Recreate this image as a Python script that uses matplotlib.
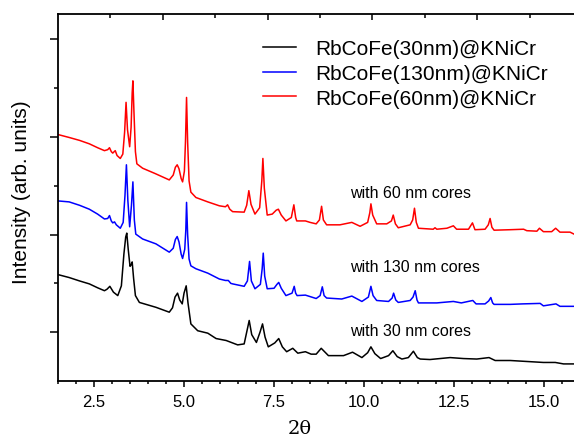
import matplotlib
matplotlib.use("Agg")
import matplotlib.pyplot as plt

plt.rcParams['font.family'] = ['Liberation Sans', 'DejaVu Sans']

# ---- data (2-theta, intensity in arb. units) ----
x_60nm = [1.50, 1.81, 2.10, 2.37, 2.60, 2.79, 2.88, 2.93, 2.98, 3.02, 3.09, 3.14, 3.23, 3.30, 3.35, 3.39,
          3.43, 3.49, 3.53, 3.56, 3.58, 3.61, 3.65, 3.69, 3.85, 4.20, 4.59, 4.70, 4.76, 4.81, 4.86, 4.92,
          4.96, 5.01, 5.04, 5.07, 5.10, 5.14, 5.19, 5.33, 5.66, 5.98, 6.15, 6.21, 6.27, 6.35, 6.67, 6.74,
          6.80, 6.86, 6.97, 7.10, 7.16, 7.19, 7.23, 7.31, 7.45, 7.56, 7.62, 7.70, 7.83, 7.98, 8.05, 8.10,
          8.13, 8.37, 8.50, 8.67, 8.76, 8.82, 8.87, 8.96, 9.33, 9.66, 9.89, 10.10, 10.16, 10.19, 10.24,
          10.35, 10.63, 10.76, 10.81, 10.87, 10.95, 11.28, 11.35, 11.40, 11.45, 11.51, 11.92, 11.97, 12.02,
          12.30, 12.48, 12.57, 12.90, 13.01, 13.08, 13.36, 13.45, 13.50, 13.55, 13.61, 14.06, 14.43, 14.52,
          14.80, 14.87, 14.98, 15.21, 15.32, 15.44, 15.72, 15.83]
y_60nm = [5.05, 4.99, 4.93, 4.86, 4.78, 4.72, 4.74, 4.78, 4.70, 4.67, 4.72, 4.62, 4.56, 4.65, 5.10, 5.71,
          5.15, 4.80, 5.20, 5.90, 6.15, 5.50, 4.70, 4.45, 4.36, 4.25, 4.12, 4.22, 4.38, 4.43, 4.35, 4.15,
          4.08, 4.30, 4.90, 5.81, 4.90, 4.10, 3.87, 3.76, 3.67, 3.59, 3.57, 3.61, 3.52, 3.47, 3.46, 3.60,
          3.90, 3.62, 3.42, 3.55, 4.10, 4.56, 3.95, 3.40, 3.42, 3.50, 3.52, 3.40, 3.28, 3.35, 3.61, 3.35,
          3.28, 3.28, 3.25, 3.22, 3.30, 3.58, 3.30, 3.20, 3.20, 3.25, 3.17, 3.25, 3.45, 3.63, 3.40,
          3.22, 3.22, 3.28, 3.40, 3.22, 3.14, 3.20, 3.30, 3.54, 3.25, 3.13, 3.11, 3.14, 3.11,
          3.13, 3.18, 3.11, 3.11, 3.24, 3.10, 3.11, 3.20, 3.33, 3.15, 3.09, 3.10, 3.11, 3.08,
          3.07, 3.13, 3.06, 3.06, 3.13, 3.05, 3.05, 3.01]

x_130nm = [1.50, 1.81, 2.10, 2.37, 2.60, 2.79, 2.88, 2.93, 2.98, 3.02, 3.07, 3.12, 3.23, 3.31, 3.36, 3.40,
           3.44, 3.49, 3.54, 3.58, 3.62, 3.66, 3.85, 4.22, 4.59, 4.70, 4.76, 4.81, 4.86, 4.92, 4.96, 5.02,
           5.05, 5.07, 5.10, 5.14, 5.19, 5.33, 5.66, 5.98, 6.15, 6.23, 6.30, 6.35, 6.67, 6.76, 6.82, 6.87,
           6.97, 7.12, 7.17, 7.20, 7.24, 7.31, 7.50, 7.58, 7.63, 7.70, 7.83, 8.00, 8.06, 8.10, 8.14, 8.37,
           8.50, 8.67, 8.78, 8.84, 8.89, 8.96, 9.38, 9.66, 9.94, 10.12, 10.19, 10.25, 10.35, 10.68, 10.78,
           10.82, 10.88, 10.95, 11.28, 11.36, 11.42, 11.47, 11.51, 12.02, 12.48, 12.70, 13.02, 13.11, 13.36,
           13.46, 13.52, 13.57, 13.61, 14.06, 14.40, 14.89, 14.98, 15.33, 15.44, 15.83]
y_130nm = [3.69, 3.67, 3.60, 3.52, 3.42, 3.32, 3.33, 3.39, 3.28, 3.24, 3.26, 3.20, 3.13, 3.25, 3.80, 4.43,
           3.70, 3.16, 3.60, 4.08, 3.30, 3.01, 2.91, 2.81, 2.64, 2.72, 2.90, 2.96, 2.85, 2.60, 2.51, 2.70,
           3.10, 3.66, 3.00, 2.50, 2.36, 2.30, 2.21, 2.09, 2.06, 2.06, 2.00, 1.99, 1.94, 2.05, 2.45, 2.05,
           1.89, 1.98, 2.30, 2.62, 2.15, 1.89, 1.90, 1.98, 2.02, 1.90, 1.75, 1.80, 1.94, 1.80, 1.75, 1.76,
           1.73, 1.69, 1.75, 1.93, 1.75, 1.70, 1.68, 1.74, 1.63, 1.72, 1.94, 1.75, 1.65, 1.63, 1.70,
           1.80, 1.66, 1.61, 1.65, 1.72, 1.85, 1.66, 1.60, 1.60, 1.63, 1.60, 1.65, 1.58, 1.58,
           1.64, 1.71, 1.60, 1.57, 1.57, 1.58, 1.59, 1.54, 1.58, 1.53, 1.53]

x_30nm = [1.50, 1.81, 2.10, 2.37, 2.60, 2.79, 2.86, 2.94, 3.04, 3.16, 3.26, 3.33, 3.38, 3.41, 3.45, 3.50,
          3.53, 3.56, 3.60, 3.65, 3.76, 4.22, 4.59, 4.68, 4.75, 4.82, 4.88, 4.95, 5.00, 5.06, 5.11, 5.19,
          5.38, 5.66, 5.89, 6.17, 6.49, 6.67, 6.74, 6.81, 6.88, 7.01, 7.11, 7.18, 7.25, 7.34, 7.52, 7.63,
          7.73, 7.85, 8.02, 8.16, 8.37, 8.53, 8.67, 8.81, 9.01, 9.43, 9.68, 9.94, 10.10, 10.19, 10.30,
          10.46, 10.68, 10.80, 10.92, 11.05, 11.23, 11.37, 11.48, 11.56, 11.83, 12.39, 12.76, 13.13, 13.47,
          13.64, 14.06, 14.52, 14.98, 15.31, 15.54, 15.83]
y_30nm = [2.18, 2.12, 2.05, 1.99, 1.91, 1.85, 1.88, 1.94, 1.82, 1.75, 1.95, 2.60, 2.95, 3.03, 2.70, 2.35,
          2.38, 2.44, 2.10, 1.75, 1.61, 1.51, 1.41, 1.50, 1.72, 1.80, 1.66, 1.58, 1.80, 1.95, 1.60, 1.17,
          1.03, 0.98, 0.87, 0.83, 0.74, 0.76, 1.00, 1.24, 0.95, 0.79, 1.00, 1.17, 0.90, 0.70, 0.78, 0.87,
          0.70, 0.60, 0.67, 0.57, 0.60, 0.55, 0.55, 0.67, 0.52, 0.52, 0.59, 0.48, 0.58, 0.70, 0.56,
          0.46, 0.52, 0.62, 0.50, 0.45, 0.48, 0.61, 0.48, 0.45, 0.44, 0.48, 0.46, 0.45, 0.48,
          0.42, 0.42, 0.40, 0.38, 0.38, 0.35, 0.35]

legend_labels = ["RbCoFe(30nm)@KNiCr", "RbCoFe(130nm)@KNiCr", "RbCoFe(60nm)@KNiCr"]
annotations = ["with 60 nm cores", "with 130 nm cores", "with 30 nm cores"]
xtick_values = [2.5, 5.0, 7.5, 10.0, 12.5, 15.0]

W, H = 574, 439
fig = plt.figure(figsize=(W / 100, H / 100), dpi=100)
ax = fig.add_axes([58 / W, 1 - 382 / H, (W - 58) / W, (382 - 15) / H])

lw = 1.1
l30, = ax.plot(x_30nm, y_30nm, color='black', lw=lw)
l130, = ax.plot(x_130nm, y_130nm, color='#0000ff', lw=lw)
l60, = ax.plot(x_60nm, y_60nm, color='#ff0000', lw=lw)

ax.set_xlim(1.5, 15.83)
ax.set_ylim(0, 7.52)

ax.set_xticks(xtick_values)
ax.set_xticklabels([f"{v:.1f}" for v in xtick_values], fontsize=12)
ax.set_xticks([v / 2 for v in range(3, 32)], minor=True)
ax.set_yticks([1, 3, 5, 7])
ax.set_yticks([2, 4, 6], minor=True)
ax.set_yticklabels([])

ax.tick_params(axis='x', which='major', direction='out', length=4.3, width=1.1, top=False, pad=5)
ax.tick_params(axis='x', which='minor', direction='out', length=2.2, width=1.1, top=False)
ax.tick_params(axis='y', which='major', direction='out', length=5.8, width=1.1, right=False)
ax.tick_params(axis='y', which='minor', direction='out', length=2.9, width=1.1, right=False)

for s in ['left', 'bottom', 'top']:
    ax.spines[s].set_linewidth(1.3)
ax.spines['right'].set_visible(False)

# top axis ticks (unlabelled)
ax2 = ax.twiny()
ax2.set_xlim(0, (W - 58) / 52.4)
ax2.set_xticks([2, 4, 6, 8])
ax2.set_xticks([1, 3, 5, 7, 9], minor=True)
ax2.set_xticklabels([])
ax2.tick_params(axis='x', which='major', direction='in', length=4.3, width=1.1)
ax2.tick_params(axis='x', which='minor', direction='in', length=2.9, width=1.1)
for s in ax2.spines.values():
    s.set_visible(False)

# labels
fig.text(300 / W, 1 - 429 / H, "2θ", fontsize=14, ha='center', va='center', family='DejaVu Serif')
fig.text(22 / W, 1 - 192 / H, "Intensity (arb. units)", fontsize=15, rotation=90,
         ha='center', va='center')

ax.legend([l30, l130, l60], legend_labels, loc='upper left',
          bbox_to_anchor=(263 / W, 1 - 40 / H), bbox_transform=fig.transFigure,
          frameon=False, fontsize=15, handlelength=1.6, handletextpad=0.9,
          labelspacing=0.28, borderpad=0, borderaxespad=0)

for txt, yy in zip(annotations, [194, 268, 332]):
    fig.text(350 / W, 1 - yy / H, txt, fontsize=11.5, ha='left', va='center')

fig.savefig("out.png", dpi=100)
